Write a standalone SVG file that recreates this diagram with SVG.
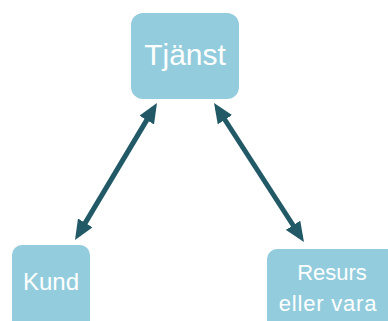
<svg xmlns="http://www.w3.org/2000/svg" width="388" height="321" viewBox="0 0 388 321">
  <style>
    .box { fill: #93CDDD; }
    .label { fill: #FFFFFF; font-family: "Liberation Sans", Arial, sans-serif; text-anchor: middle; }
    .link { stroke: #215967; stroke-width: 5; fill: none; marker-start: url(#head); marker-end: url(#head); }
  </style>
  <defs>
    <!-- filled arrowhead; tip sits 6px past the line end -->
    <marker id="head" markerUnits="userSpaceOnUse" markerWidth="20" markerHeight="17" viewBox="0 0 20 17" refX="14" refY="8.5" orient="auto-start-reverse">
      <path d="M0,0 L20,8.5 L0,17 Z" fill="#215967"/>
    </marker>
  </defs>

  <g id="connectors">
    <line class="link" x1="153.9" y1="108.1" x2="78.1" y2="234.9"/>
    <line class="link" x1="217.3" y1="108.0" x2="300.7" y2="237.0"/>
  </g>

  <g id="tjanst">
    <rect class="box" x="131" y="13" width="108" height="86" rx="12"/>
    <text class="label" x="185" y="65" font-size="30">Tjänst</text>
  </g>

  <g id="kund">
    <rect class="box" x="12" y="245" width="78" height="90" rx="10"/>
    <text class="label" x="51" y="290" font-size="24">Kund</text>
  </g>

  <g id="resurs">
    <rect class="box" x="267" y="249" width="135" height="90" rx="10"/>
    <text class="label" x="332" y="280" font-size="22">Resurs</text>
    <text class="label" x="328" y="311" font-size="22" letter-spacing="0.8">eller vara</text>
  </g>
</svg>
